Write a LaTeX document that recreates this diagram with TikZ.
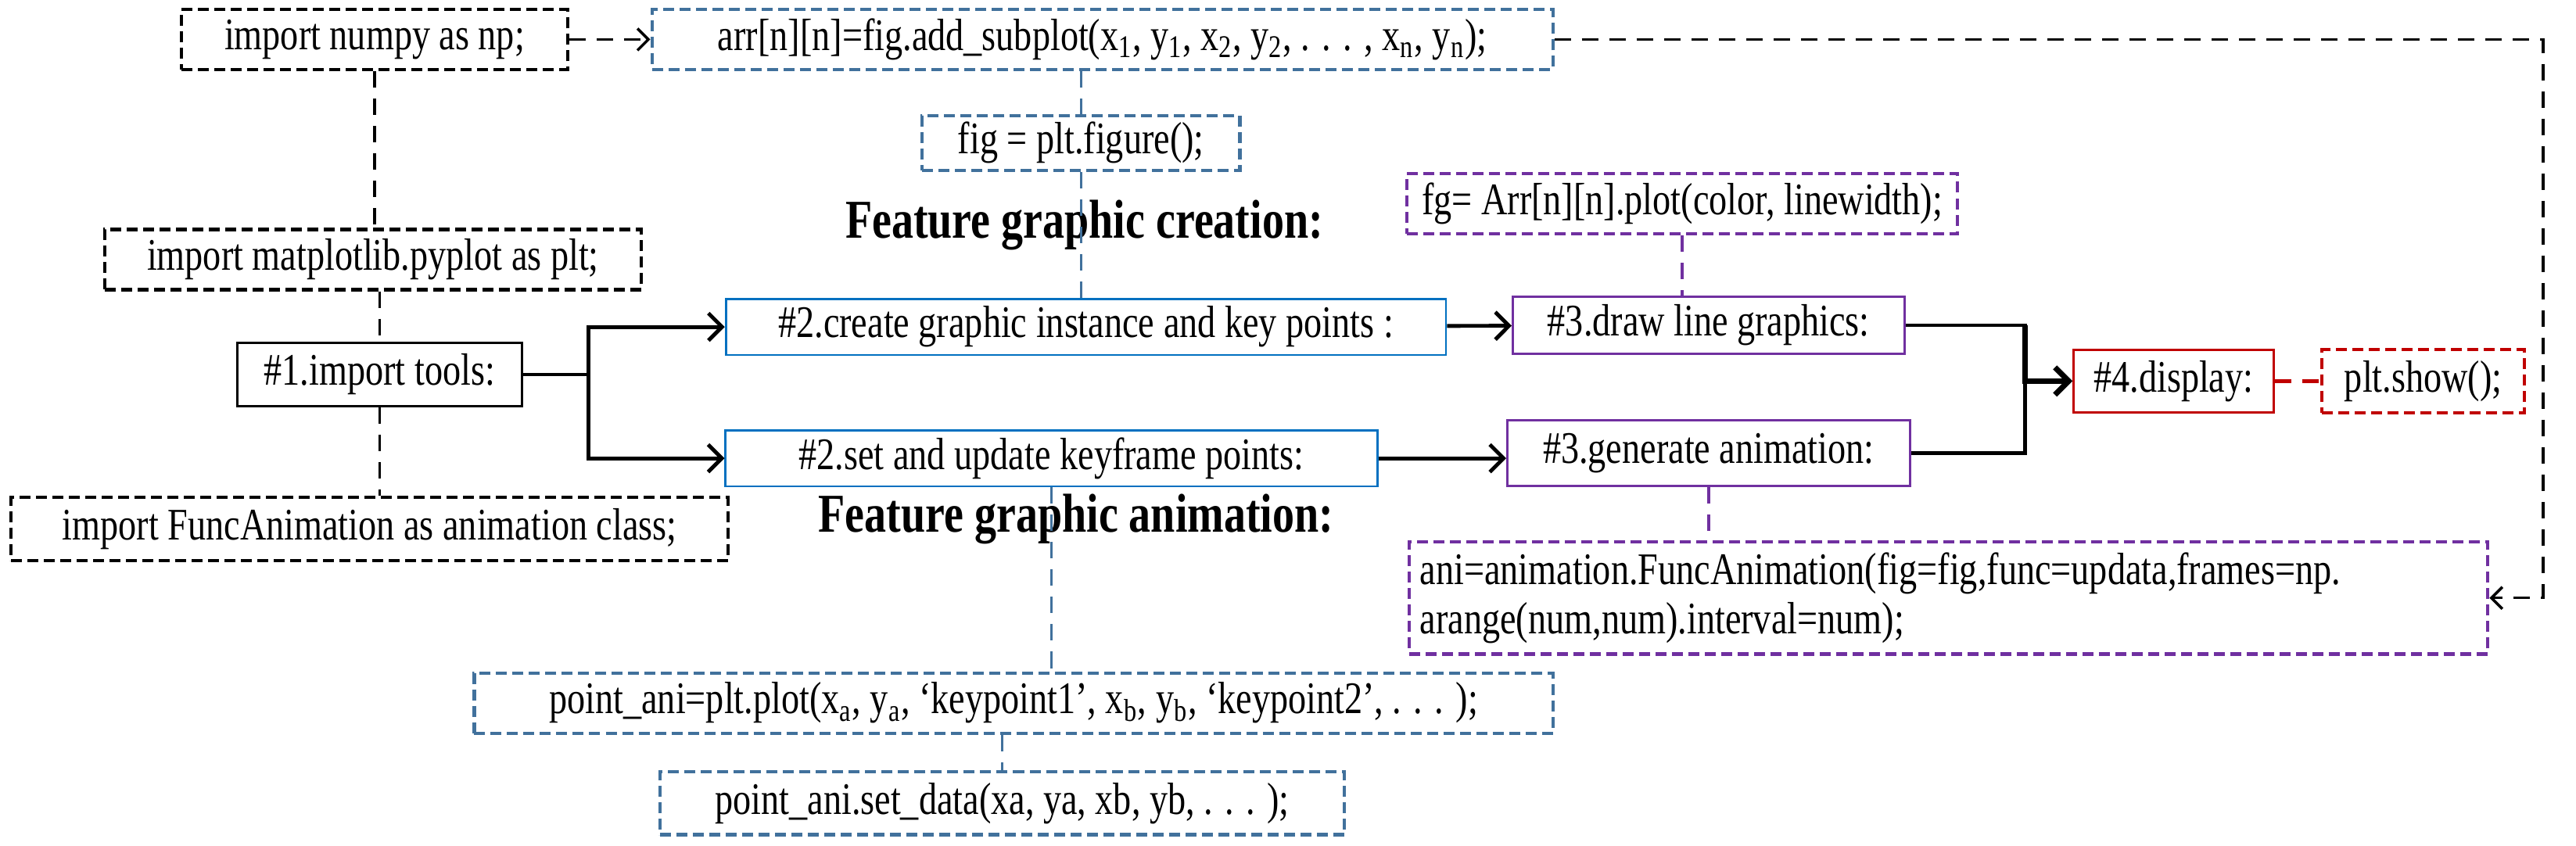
\documentclass[tikz,border=0pt]{standalone}
\usepackage{fontspec}
\setmainfont{Liberation Serif}[FakeStretch=0.8]
\usetikzlibrary{arrows.meta, positioning}
\definecolor{dblue}{HTML}{41719C}
\definecolor{sblue}{HTML}{0070C0}
\definecolor{vio}{HTML}{7030A0}
\definecolor{dred}{HTML}{C00000}
\begin{document}
\begin{tikzpicture}[x=0.6pt, y=-0.6pt, font=\fontsize{16.5}{18}\selectfont,
    box/.style={draw, line width=0.8pt, inner sep=2pt},
    dbox/.style={box, dashed, line width=1.2pt, dash pattern=on 4pt off 2pt},
    dline/.style={dashed, line width=1pt, dash pattern=on 6pt off 4pt},
    flow/.style={line width=1.4pt, -{Straight Barb[length=5pt]}}]
    \useasboundingbox (0,0) rectangle (1568,515);
    % imports
    \node [dbox, minimum width=141pt, minimum height=22pt] (np) at (228,24) {import numpy as np;};
    \node [dbox, minimum width=196pt, minimum height=22pt] (mat) at (227,158) {import matplotlib.pyplot as plt;};
    \node [box, minimum width=104pt, minimum height=23pt] (tools) at (231,228) {\#1.import tools:};
    \node [dbox, minimum width=262pt, minimum height=23pt] (anim) at (225,322) {import FuncAnimation as animation class;};
    % creation
    \node [dbox, dblue, text=black, minimum width=329pt, minimum height=22pt] (sub) at (671,24)
      {arr[n][n]=fig.add\_subplot(x\textsubscript{1}, y\textsubscript{1}, x\textsubscript{2}, y\textsubscript{2}, . . . , x\textsubscript{n}, y\textsubscript{n});};
    \node [dbox, dblue, text=black, minimum width=116pt, minimum height=20pt] (fig) at (658,87) {fig = plt.figure();};
    \node [font=\fontsize{20}{22}\selectfont\bfseries] (tcre) at (660,137) {Feature graphic creation:};
    \node [box, sblue, text=black, minimum width=263pt, minimum height=20.5pt] (create) at (661,199) {\#2.create graphic instance and key points :};
    \node [dbox, vio, text=black, minimum width=201pt, minimum height=22pt] (fg) at (1024,124) {fg= Arr[n][n].plot(color, linewidth);};
    \node [box, vio, text=black, minimum width=143pt, minimum height=21pt] (draw) at (1040,198) {\#3.draw line graphics:};
    % animation
    \node [box, sblue, text=black, minimum width=238pt, minimum height=20.5pt] (keys) at (640,279) {\#2.set and update keyframe points:};
    \node [box, vio, text=black, minimum width=147pt, minimum height=24pt] (gen) at (1040,276) {\#3.generate animation:};
    \node [font=\fontsize{20}{22}\selectfont\bfseries] (tani) at (655,316) {Feature graphic animation:};
    \node [dbox, vio, text=black, minimum width=394pt, minimum height=41pt, text width=386pt, align=left] (ani) at (1186,364)
      {ani=animation.FuncAnimation(fig=fig,func=updata,frames=np.\\arange(num,num).interval=num);};
    \node [dbox, dblue, text=black, minimum width=394pt, minimum height=22pt] (pani) at (617,428)
      {point\_ani=plt.plot(x\textsubscript{a}, y\textsubscript{a}, ‘keypoint1’, x\textsubscript{b}, y\textsubscript{b}, ‘keypoint2’, . . . );};
    \node [dbox, dblue, text=black, minimum width=250pt, minimum height=23pt] (sdata) at (610,489) {point\_ani.set\_data(xa, ya, xb, yb, . . . );};
    % display
    \node [box, dred, text=black, minimum width=73pt, minimum height=23pt] (disp) at (1323,232) {\#4.display:};
    \node [dbox, dred, text=black, minimum width=74pt, minimum height=23pt] (show) at (1475,232) {plt.show();};
    \coordinate (e1) at (1548,24);
    \coordinate (e2) at (1548,364);
    % dashed links
    \draw [dline] (np) -- (np |- mat.north);
    \draw [dline] (mat.south -| tools) -- (tools);
    \draw [dline] (tools) -- (tools |- anim.north);
    \draw [dline, -{Straight Barb[length=4pt]}] (np) -- (sub);
    \draw [dline, dblue] (sub.south -| fig) -- (fig);
    \draw [dline, dblue] (fig) -- (fig |- create.north);
    \draw [dline, dblue] (keys) -- (keys |- pani.north);
    \draw [dline, dblue] (pani.south -| sdata) -- (sdata);
    \draw [dline, vio] (fg) -- (fg |- draw.north);
    \draw [dline, vio] (gen) -- (gen |- ani.north);
    \draw [dline, dred, line width=1.4pt] (disp) -- (show);
    \draw [dline, -{Straight Barb[length=4pt]}] (sub) -- (e1) -- (e2) -- (ani);
    % flow
    \draw [flow] (tools.east) -- ++(40,0) |- (create.west);
    \draw [flow] (tools.east) -- ++(40,0) |- (keys.west);
    \draw [flow] (create) -- (draw);
    \draw [flow] (keys) -- (keys -| gen.west);
    \draw [line width=1.4pt] (draw.east) -- ++(73,0) |- (gen.east);
    \draw [flow, line width=2pt] (draw.east) ++(73,0) |- (disp.west);
\end{tikzpicture}
\end{document}
